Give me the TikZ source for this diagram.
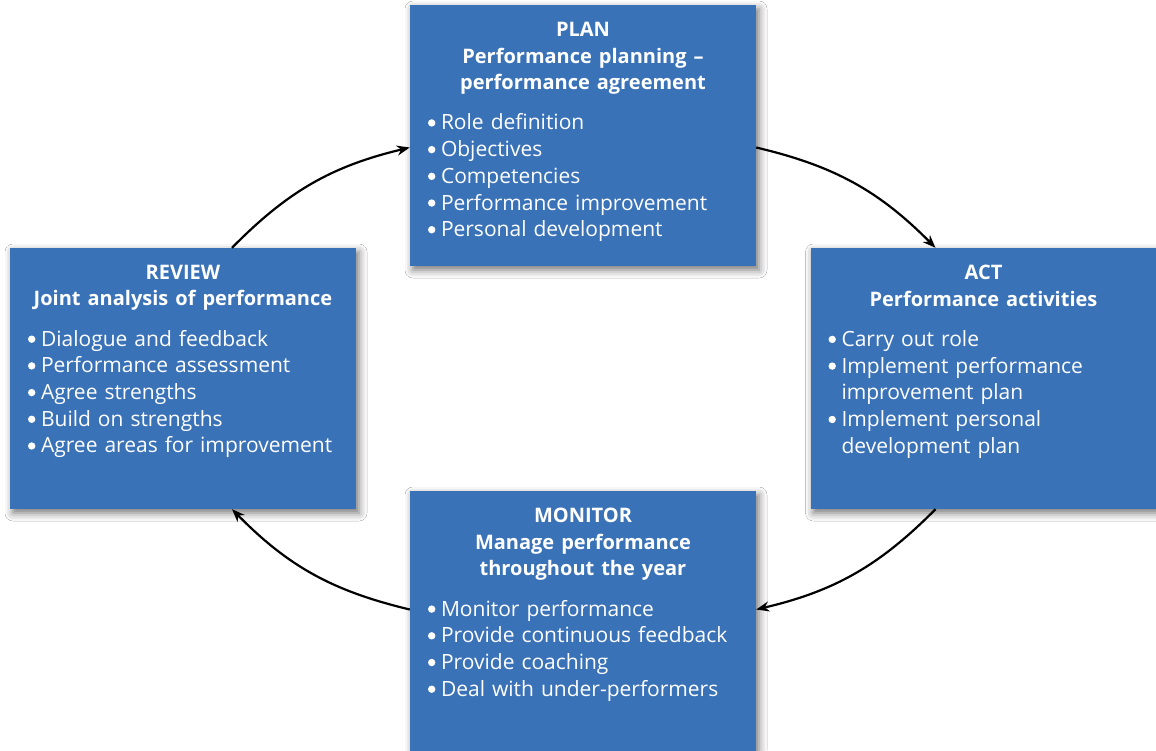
\documentclass[tikz,border=0pt]{standalone}
\usepackage{fontspec}
\setmainfont{Open Sans}
\usetikzlibrary{arrows.meta,shadows.blur}
\definecolor{boxblue}{HTML}{3A72B8}

\newcommand{\bdot}{\tikz[baseline=0pt,x=1pt,y=1pt]\fill[white] (3.8,7) circle (3.7);}
\newcommand{\bul}[1]{\par\noindent\hangindent=13pt\hangafter=1\makebox[13pt][l]{\bdot}#1\par}
\newcommand{\hd}[1]{{\centering\leftskip=-15pt plus 1fil\rightskip=-15pt plus 1fil
  \fontsize{20}{26.7}\selectfont\bfseries #1\par}\vspace{13.5pt}}

\begin{document}
\begin{tikzpicture}[x=1pt,y=-1pt,
  box/.style={fill=boxblue,minimum width=346pt,minimum height=261pt,inner sep=0pt,
    blur shadow={shadow xshift=3pt,shadow yshift=-4pt,shadow blur radius=8pt,shadow opacity=55}},
  txt/.style={anchor=north,text=white,text width=310pt,align=left,inner sep=0pt,
    font=\fontsize{21}{26.7}\selectfont},
  arr/.style={-{Stealth[length=13pt,width=10pt]},line width=2.2pt,bend left=16}]
\useasboundingbox[fill=white] (0,0) rectangle (1156,750);
\node[box] (plan) at (583,135.5) {};
\node[box] (act) at (983.5,378.5) {};
\node[box] (review) at (183,378.5) {};
\node[box] (monitor) at (583,621.5) {};
% box texts
\node[txt] (plan-t) at ([yshift=-17pt]plan.north) {\hd{PLAN\\Performance planning --\\performance agreement}%
  \bul{Role definition}\bul{Objectives}\bul{Competencies}\bul{Performance improvement}\bul{Personal development}};
\node[txt] (act-t) at ([yshift=-17pt]act.north) {\hd{ACT\\Performance activities}%
  \bul{Carry out role}\bul{Implement performance\newline improvement plan}\bul{Implement personal\newline development plan}};
\node[txt] (review-t) at ([yshift=-17pt]review.north) {\hd{REVIEW\\Joint analysis of performance}%
  \bul{Dialogue and feedback}\bul{Performance assessment}\bul{Agree strengths}\bul{Build on strengths}\bul{Agree areas for improvement}};
\node[txt] (monitor-t) at ([yshift=-17pt]monitor.north) {\hd{MONITOR\\Manage performance\\throughout the year}%
  \bul{Monitor performance}\bul{Provide continuous feedback}\bul{Provide coaching}\bul{Deal with under-performers}};
% cycle
\draw[arr] ([yshift=-12pt]plan.east) to ([xshift=-48pt]act.north);
\draw[arr] ([xshift=-48pt]act.south) to ([yshift=12pt]monitor.east);
\draw[arr] ([yshift=12pt]monitor.west) to ([xshift=49pt]review.south);
\draw[arr] ([xshift=49pt]review.north) to ([yshift=-12pt]plan.west);
\end{tikzpicture}
\end{document}
